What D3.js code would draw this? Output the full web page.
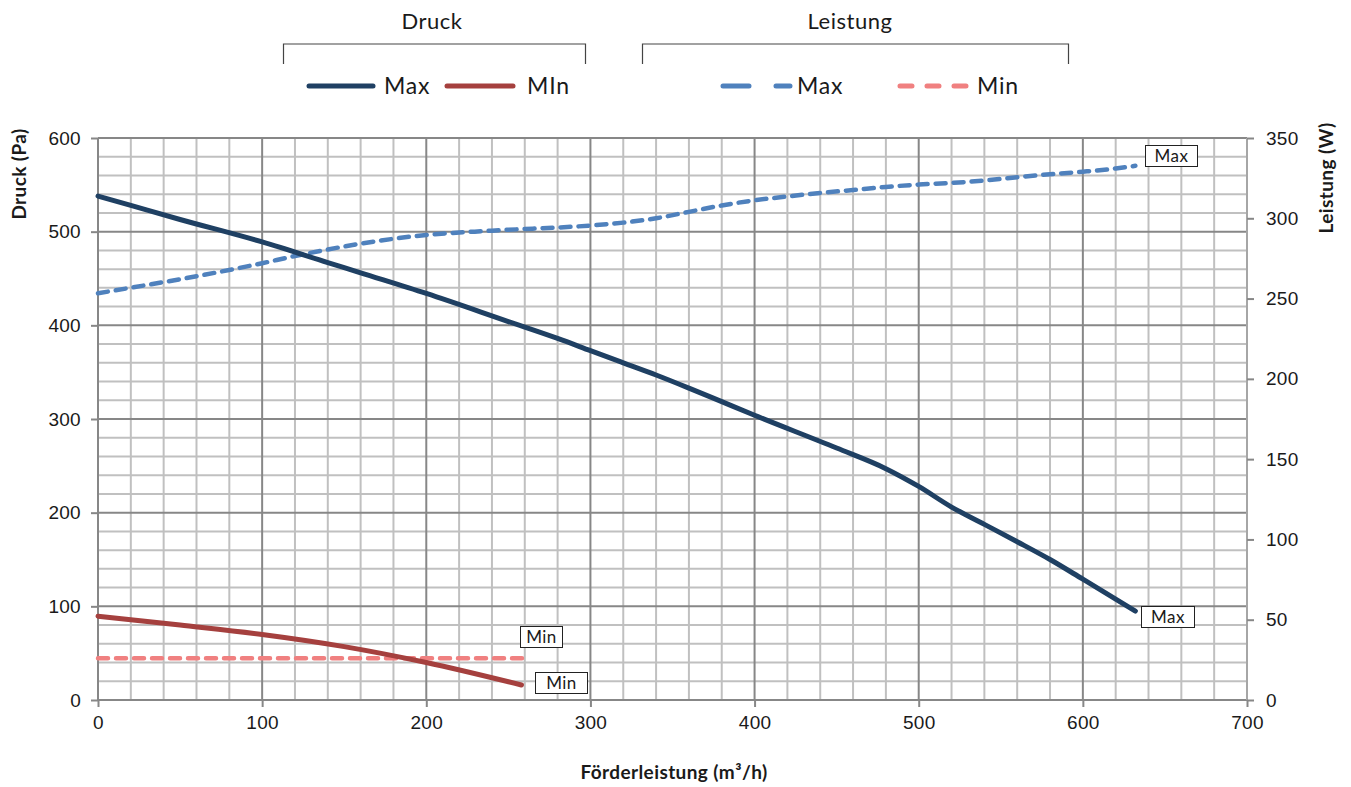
<!DOCTYPE html>
<html><head><meta charset="utf-8">
<script src="https://cdn.jsdelivr.net/npm/d3@7"></script>
<style>
html,body{margin:0;padding:0;background:#fff;}
svg{display:block;font-family:Lato,"Noto Sans",sans-serif;}
</style></head>
<body><svg id="chart" width="1351" height="787"></svg>
<script>
// ---- data ----
const xTicks = [0,100,200,300,400,500,600,700];
const yLeftTicks = [0,100,200,300,400,500,600];
const yRightTicks = [0,50,100,150,200,250,300,350];

const druckMaxX = [0,20,50,100,140,160,200,250,280,300,320,340,360,380,400,450,480,500,520,540,560,580,600,632];
const druckMaxY = [538,528,513,489,467,456,434,404,386,373,360,347,333,318.5,304,269,247,228,206,187.5,169,150,129,95];

const druckMinX = [0,50,100,150,200,258];
const druckMinY = [89.5,80,70,57,40,16];

const leistMaxX = [0,100,120,200,240,300,320,340,360,380,400,420,440,460,480,500,520,540,560,580,600,620,632];
const leistMaxY = [253.3,272,276.5,289.6,292.3,295.5,297.3,300,304,308,311.2,313.6,315.8,317.6,319.5,321,322,323.5,325.6,327.4,329,331,332.7];

const leistMinX = [0,260];
const leistMinY = [26,26];

// ---- layout ----
const svg = d3.select("#chart");
const L = 98, R = 1247, T = 138, B = 700;
const x = d3.scaleLinear().domain([0,700]).range([L,R]);
const yL = d3.scaleLinear().domain([0,600]).range([B,T]);
const yR = d3.scaleLinear().domain([0,350]).range([B,T]);

const minorCol = "#c0c0c0", majorCol = "#878787", textCol = "#1a1a1a";

// minor grid
const g = svg.append("g");
g.selectAll(".vmin").data(d3.range(0,701,20).filter(v=>v%100!==0)).join("line")
  .attr("x1",d=>x(d)).attr("x2",d=>x(d)).attr("y1",T).attr("y2",B)
  .attr("stroke",minorCol).attr("stroke-width",2);
g.selectAll(".hmin").data(d3.range(0,601,20).filter(v=>v%100!==0)).join("line")
  .attr("y1",d=>yL(d)).attr("y2",d=>yL(d)).attr("x1",L).attr("x2",R)
  .attr("stroke",minorCol).attr("stroke-width",2);
// major grid
g.selectAll(".vmaj").data(xTicks).join("line")
  .attr("x1",d=>x(d)).attr("x2",d=>x(d)).attr("y1",T).attr("y2",B)
  .attr("stroke",majorCol).attr("stroke-width",2);
g.selectAll(".hmaj").data(yLeftTicks).join("line")
  .attr("y1",d=>yL(d)).attr("y2",d=>yL(d)).attr("x1",L).attr("x2",R)
  .attr("stroke",majorCol).attr("stroke-width",2);
svg.append("line").attr("x1",R).attr("x2",R).attr("y1",T).attr("y2",B)
  .attr("stroke","#a6a6a6").attr("stroke-width",2);

// axes
function styleAxis(sel){
  sel.select(".domain").remove();
  sel.selectAll(".tick line").attr("stroke",majorCol).attr("stroke-width",2);
  sel.selectAll(".tick text").attr("fill",textCol).style("font-size","19px").style("letter-spacing","0.3px");
}
svg.append("g").attr("transform",`translate(0,${B})`)
  .call(d3.axisBottom(x).tickValues(xTicks).tickSize(7).tickPadding(9).tickFormat(d3.format("d")))
  .call(styleAxis);
svg.append("g").attr("transform",`translate(${L},0)`)
  .call(d3.axisLeft(yL).tickValues(yLeftTicks).tickSize(7).tickPadding(10).tickFormat(d3.format("d")))
  .call(styleAxis);
svg.append("g").attr("transform",`translate(${R},0)`)
  .call(d3.axisRight(yR).tickValues(yRightTicks).tickSize(7).tickPadding(12).tickFormat(d3.format("d")))
  .call(styleAxis);

// axis titles
function axTitle(sel){
  return sel.attr("text-anchor","middle").attr("fill",textCol)
    .style("font-size","19px").style("font-weight","bold").style("letter-spacing","0.4px");
}
axTitle(svg.append("text").attr("transform","translate(26,174) rotate(-90)")).text("Druck (Pa)");
axTitle(svg.append("text").attr("transform","translate(1333,178) rotate(-90)")).text("Leistung (W)");
axTitle(svg.append("text").attr("x",674).attr("y",779)).text("Förderleistung (m³/h)");

// lines
const mk = (xs,ys,ys_scale)=> xs.map((v,i)=>[x(v), ys_scale(ys[i])]);
const line = d3.line().curve(d3.curveMonotoneX);

const colMaxP = "#1f4063", colMinP = "#a5403e", colMaxW = "#4f81bd", colMinW = "#f08080";

svg.append("path").attr("d",line(mk(leistMinX,leistMinY,yR))).attr("fill","none")
  .attr("stroke",colMinW).attr("stroke-width",4.5).attr("stroke-dasharray","10,8").attr("stroke-linecap","round");
svg.append("path").attr("d",line(mk(druckMinX,druckMinY,yL))).attr("fill","none")
  .attr("stroke",colMinP).attr("stroke-width",5).attr("stroke-linecap","round");
svg.append("path").attr("d",line(mk(leistMaxX,leistMaxY,yR))).attr("fill","none")
  .attr("stroke",colMaxW).attr("stroke-width",4.5).attr("stroke-dasharray","10,8").attr("stroke-linecap","round");
svg.append("path").attr("d",line(mk(druckMaxX,druckMaxY,yL))).attr("fill","none")
  .attr("stroke",colMaxP).attr("stroke-width",5).attr("stroke-linecap","round");

// data labels
function label(cx, cy, txt, w){
  svg.append("rect").attr("x",cx).attr("y",cy).attr("width",w).attr("height",21)
    .attr("fill","#fff").attr("stroke","#222").attr("stroke-width",1);
  svg.append("text").attr("x",cx+w/2).attr("y",cy+16.5).attr("text-anchor","middle")
    .attr("fill",textCol).style("font-size","17px").style("letter-spacing","0.5px").text(txt);
}
label(1145.5,145.5,"Max",52);
label(1141.5,606.5,"Max",53);
label(520.5,626.5,"Min",42);
label(535.5,672.5,"Min",52);

// legend
function groupHead(x1,x2,txt,tx){
  svg.append("path").attr("d",`M${x1},64V44H${x2}V64`).attr("fill","none").attr("stroke","#444").attr("stroke-width",1.2);
  svg.append("text").attr("x",tx).attr("y",29).attr("text-anchor","middle").attr("fill",textCol)
    .style("font-size","22px").style("letter-spacing","0.5px").text(txt);
}
groupHead(283.5,585.5,"Druck",432);
groupHead(642.5,1068.5,"Leistung",850);

function legItem(x1,x2,col,dash,txt,tx){
  const l = svg.append("line").attr("x1",x1).attr("x2",x2).attr("y1",86).attr("y2",86)
    .attr("stroke",col).attr("stroke-width",5).attr("stroke-linecap","round");
  if(dash) l.attr("stroke-dasharray",dash);
  svg.append("text").attr("x",tx).attr("y",94).attr("fill",textCol)
    .style("font-size","23px").style("letter-spacing","0.8px").text(txt);
}
legItem(309,373,colMaxP,null,"Max",384);
legItem(447,513,colMinP,null,"MIn",527);
legItem(723,790,colMaxW,"26,27","Max",797);
legItem(900,968,colMinW,"12,15","Min",977);
</script></body></html>
